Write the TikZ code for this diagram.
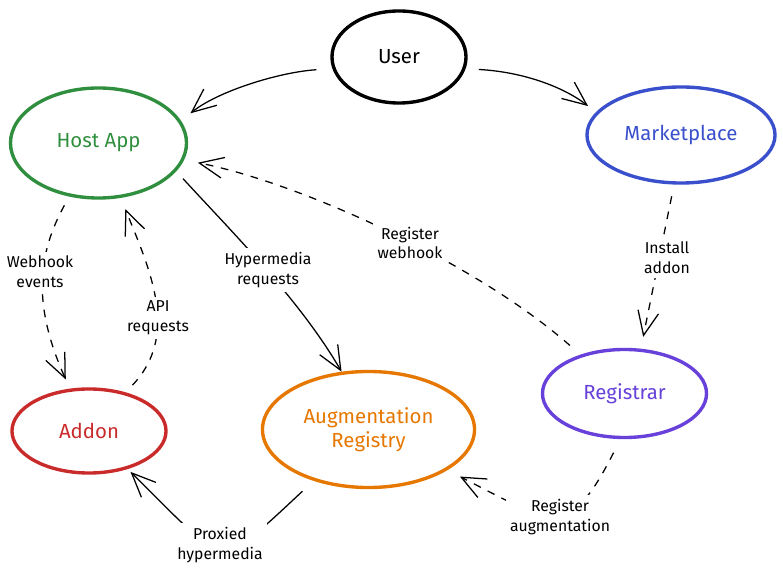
\documentclass[tikz,border=0pt]{standalone}
\usepackage{fontspec}
\setmainfont{Fira Sans}
\usetikzlibrary{arrows.meta,shapes.geometric}
\usepackage{xcolor}
\definecolor{hostgreen}{HTML}{2F8F3E}
\definecolor{marketblue}{HTML}{3A4FCC}
\definecolor{addonred}{HTML}{C92A2A}
\definecolor{augorange}{HTML}{E67700}
\definecolor{regpurple}{HTML}{6741D9}

\begin{document}
\begin{tikzpicture}[
    x=0.025cm, y=-0.025cm,
    actor/.style={draw, ellipse, line width=2.4pt, inner sep=0pt, align=center, font=\fontsize{14.5}{17}\selectfont},
    lbl/.style={fill=white, inner sep=3pt, align=center, font=\fontsize{11.2}{14}\selectfont},
    flow/.style={-{Straight Barb[length=6mm,width=5.2mm]}, line width=0.9pt},
    dflow/.style={flow, dash pattern=on 5.5pt off 5.5pt}
]
\useasboundingbox (0,0) rectangle (783,576);

\node[actor, minimum width=3.35cm, minimum height=2.3cm] (user) at (399,57) {User};
\node[actor, hostgreen, minimum width=4.4cm, minimum height=2.75cm] (host) at (98.5,143) {Host App};
\node[actor, marketblue, minimum width=4.7cm, minimum height=2.4cm] (market) at (681,135) {Marketplace};
\node[actor, addonred, minimum width=3.85cm, minimum height=2.1cm] (addon) at (89,431) {Addon};
\node[actor, augorange, minimum width=5.3cm, minimum height=2.9cm] (aug) at (368.5,429.5) {Augmentation\\Registry};
\node[actor, regpurple, minimum width=4.1cm, minimum height=2.2cm] (registrar) at (624.5,393.5) {Registrar};

% user entry points
\draw[flow, shorten <=0.4cm, shorten >=0.3cm] (user.190) .. controls (280,72) and (218,91) .. (host.15);
\draw[flow, shorten <=0.33cm, shorten >=0.25cm] (user.350) .. controls (525,72) and (565,88) .. (market.165);

% install and registration
\draw[dflow, shorten <=0.3cm, shorten >=0.3cm] (market.262) -- (registrar.70)
    node[lbl] at (667,258) {Install\\addon};
\draw[dflow, shorten <=0.35cm, shorten >=0.35cm] (registrar) .. controls (475,262) and (300,183) .. (host)
    node[lbl] at (410,243) {Register\\webhook};
\draw[dflow, shorten <=0.38cm, shorten >=0.35cm] (registrar.265) .. controls (569,540) and (554,525) .. (aug)
    node[lbl] at (560,517) {Register\\augmentation};

% host and addon
\draw[dflow, shorten <=0.25cm, shorten >=0.25cm] (host) .. controls (40,250) and (30,300) .. (addon)
    node[lbl] at (40,272) {Webhook\\events};
\draw[dflow, shorten <=0.25cm, shorten >=0.3cm] (addon) .. controls (180,335) and (150,270) .. (host)
    node[lbl] at (158,318) {API\\requests};

% hypermedia
\draw[flow, shorten <=0.25cm] (host.340) .. controls (232,232) and (300,300) .. (aug.115)
    node[lbl] at (268,270) {Hypermedia\\requests};
\draw[flow, shorten <=0.38cm, shorten >=0.1cm] (aug) .. controls (216,572) and (227,567) .. (addon)
    node[lbl] at (220,545) {Proxied\\hypermedia};
\end{tikzpicture}
\end{document}
